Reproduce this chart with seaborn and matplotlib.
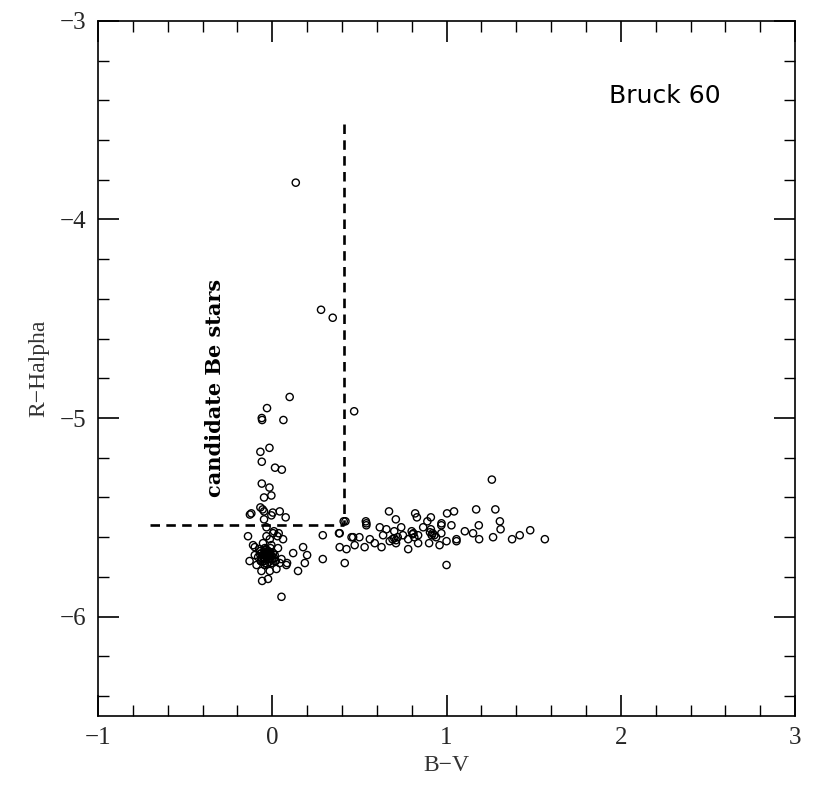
import matplotlib
matplotlib.use("Agg")
import matplotlib.pyplot as plt
import seaborn as sns
import pandas as pd
from matplotlib.ticker import MultipleLocator

# ---- data (B-V, R-Halpha) ----
bv_upper = [0.135, 0.28, 0.347, 0.10, -0.03, -0.06, -0.058, 0.064, 0.47,
            -0.016, -0.068, -0.06, 0.016, 0.055, -0.06, -0.016, -0.047, -0.005,
            -0.068, -0.12, -0.047, -0.005, 0.043, 0.077, -0.047, 0.42,
            -0.128, -0.055, 0.003]
rh_upper = [-3.815, -4.455, -4.495, -4.894, -4.95, -5.00, -5.01, -5.01, -4.966,
            -5.15, -5.17, -5.22, -5.25, -5.26, -5.33, -5.35, -5.40, -5.39,
            -5.45, -5.48, -5.47, -5.49, -5.47, -5.50, -5.51, -5.52,
            -5.486, -5.46, -5.476]

bv_blue = [-0.139, -0.033, 0.01, 0.03, 0.062, -0.033, -0.053, -0.10, -0.005,
           0.033, -0.024, -0.062, -0.081, -0.033, 0.014, -0.13, -0.09, -0.043,
           -0.005, 0.024, 0.081, -0.014, -0.062, -0.024, -0.058, 0.053, 0.12,
           0.177, 0.20, 0.187, 0.148, 0.29, 0.29, -0.072, -0.043, -0.014,
           0.053, -0.10, 0.005, 0.037, 0.085, 0.043, -0.11, -0.02, -0.05,
           -0.035, 0.0, -0.065, -0.045, -0.01, -0.075, 0.02]
rh_blue = [-5.595, -5.55, -5.57, -5.595, -5.61, -5.595, -5.63, -5.65, -5.64,
           -5.655, -5.67, -5.68, -5.70, -5.70, -5.69, -5.72, -5.74, -5.74,
           -5.73, -5.76, -5.74, -5.77, -5.77, -5.81, -5.82, -5.90, -5.68,
           -5.65, -5.69, -5.73, -5.77, -5.59, -5.71, -5.67, -5.655, -5.61,
           -5.71, -5.69, -5.58, -5.58, -5.73, -5.73, -5.64, -5.68, -5.70,
           -5.66, -5.71, -5.72, -5.68, -5.69, -5.66, -5.72]

# densest knot around B-V ~ 0, R-Halpha ~ -5.69
bv_core = [-0.04, -0.03, -0.02, -0.055, -0.015, 0.005, -0.045, -0.025, -0.06,
           0.0, -0.035, -0.05, -0.02, 0.01, -0.07, -0.03, -0.04, -0.01,
           0.015, -0.065, -0.025, -0.045]
rh_core = [-5.675, -5.685, -5.695, -5.69, -5.675, -5.68, -5.705, -5.71, -5.705,
           -5.695, -5.665, -5.72, -5.725, -5.705, -5.685, -5.735, -5.73, -5.655,
           -5.72, -5.72, -5.67, -5.69]

bv_red = [0.383, 0.387, 0.426, 0.464, 0.50, 0.54, 0.473, 0.53, 0.416, 0.41,
          1.26, 0.537, 0.67, 0.709, 0.82, 0.83, 0.89, 0.91, 1.003, 1.043,
          1.17, 1.28, 1.306, 1.185, 1.028, 0.971, 1.31, 1.48, 1.42, 1.376,
          1.564, 1.267, 1.187, 1.152, 1.105, 1.057, 1.0, 1.0, 0.655, 0.69,
          0.81, 0.91, 0.93, 0.97, 0.387, 0.455, 0.56, 0.588, 0.617, 0.627,
          0.674, 0.74, 0.75, 0.78, 0.78, 0.837, 0.837, 0.866, 0.90, 0.94,
          0.96, 0.97, 1.057, 0.54, 0.70, 0.71, 0.636, 0.72, 0.80, 0.92,
          0.70, 0.71, 0.805, 0.815, 0.905, 0.915]
rh_red = [-5.58, -5.65, -5.66, -5.60, -5.60, -5.53, -5.64, -5.65, -5.73, -5.52,
          -5.31, -5.52, -5.47, -5.51, -5.48, -5.50, -5.52, -5.50, -5.48, -5.47,
          -5.46, -5.46, -5.52, -5.54, -5.54, -5.53, -5.56, -5.565, -5.59, -5.61,
          -5.61, -5.60, -5.61, -5.58, -5.57, -5.61, -5.62, -5.74, -5.56, -5.61,
          -5.58, -5.56, -5.59, -5.58, -5.58, -5.60, -5.61, -5.63, -5.55, -5.65,
          -5.62, -5.55, -5.59, -5.66, -5.61, -5.63, -5.59, -5.55, -5.63, -5.60,
          -5.64, -5.54, -5.62, -5.54, -5.57, -5.63, -5.59, -5.60, -5.57, -5.58,
          -5.605, -5.615, -5.585, -5.60, -5.575, -5.59]

# dashed selection boundary
vline_x = [0.41, 0.41]
vline_y = [-3.52, -5.54]
hline_x = [-0.70, 0.41]
hline_y = [-5.54, -5.54]

df = pd.DataFrame({
    "bv": bv_upper + bv_blue + bv_core + bv_red,
    "rh": rh_upper + rh_blue + rh_core + rh_red,
})

sns.set_theme(style="white")
plt.rcParams["font.family"] = ["Liberation Serif", "DejaVu Serif"]

fig = plt.figure(figsize=(8.3, 7.9), dpi=100)
ax = fig.add_axes([0.118, 0.0937, 0.840, 0.880])

sns.scatterplot(data=df, x="bv", y="rh", ax=ax, marker="o", s=27,
                facecolors="none", edgecolors="black", linewidth=1.0,
                legend=False)

dash = (0, (3.6, 2.4))
sns.lineplot(x=vline_x, y=vline_y, ax=ax, color="black", linewidth=1.9,
             linestyle=dash, sort=False, estimator=None)
sns.lineplot(x=hline_x, y=hline_y, ax=ax, color="black", linewidth=1.9,
             linestyle=dash, sort=False, estimator=None)

ax.set_xlim(-1, 3)
ax.set_ylim(-6.5, -3)

ax.xaxis.set_major_locator(MultipleLocator(1))
ax.xaxis.set_minor_locator(MultipleLocator(0.2))
ax.yaxis.set_major_locator(MultipleLocator(1))
ax.yaxis.set_minor_locator(MultipleLocator(0.2))
ax.tick_params(which="both", direction="in", top=True, right=True,
               bottom=True, left=True, color="black")
ax.tick_params(which="major", length=15, width=1.2, labelsize=18, pad=8)
ax.tick_params(which="minor", length=8, width=1.0)
for s in ax.spines.values():
    s.set_color("black")
    s.set_linewidth(1.2)

ax.set_xticks([-1, 0, 1, 2, 3])
ax.set_xticklabels(["\u22121", "0", "1", "2", "3"])
ax.set_yticks([-3, -4, -5, -6])
ax.set_yticklabels(["\u22123", "\u22124", "\u22125", "\u22126"])

ax.set_xlabel("B\u2212V", fontsize=17, color="#333333", labelpad=4)
ax.set_ylabel("R\u2212Halpha", fontsize=17, color="#333333", labelpad=8)

ax.text(2.25, -3.38, "Bruck 60", fontsize=18, family=["DejaVu Sans"],
        ha="center", va="center", color="black")
ax.text(-0.33, -4.85, "candidate Be stars", fontsize=15, fontweight="bold",
        rotation=90, ha="center", va="center", color="black",
        family=["DejaVu Serif"])

fig.savefig("out.png", dpi=100, facecolor="white")
